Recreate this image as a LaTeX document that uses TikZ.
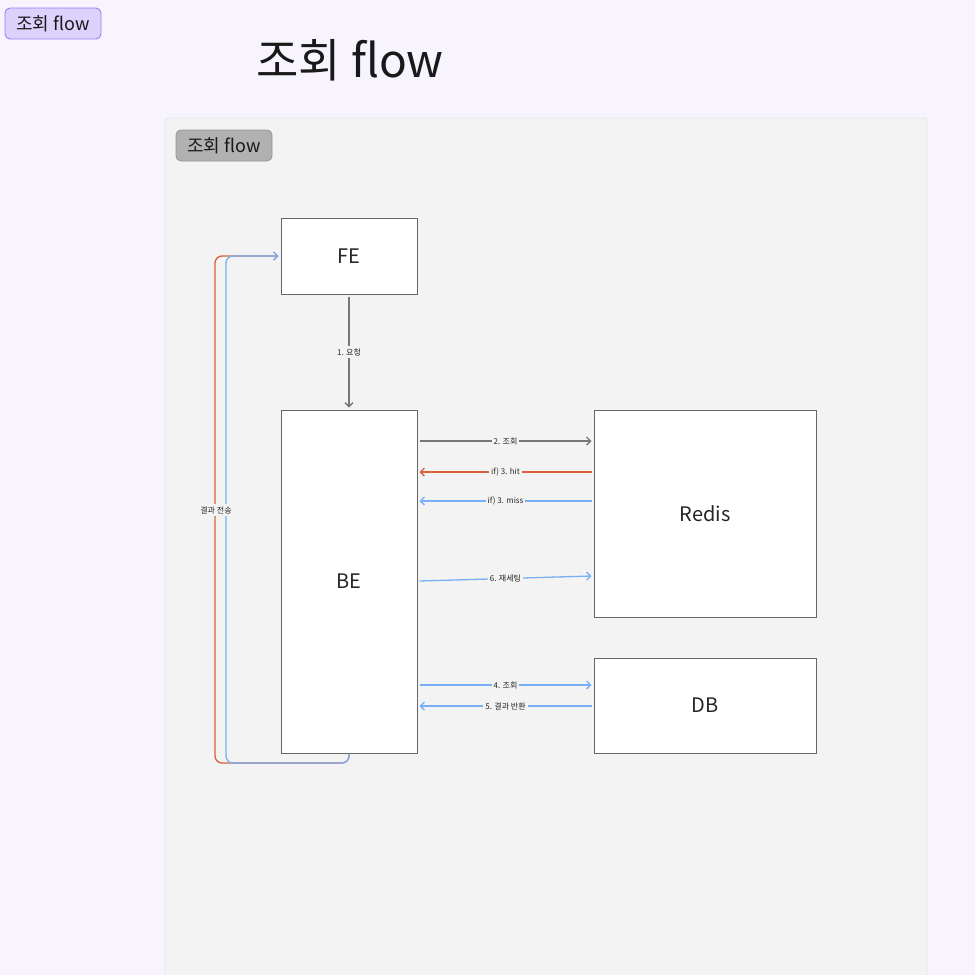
\documentclass[tikz,border=0pt]{standalone}
\usepackage{fontspec}
\setmainfont{Noto Sans CJK KR}
\usetikzlibrary{arrows.meta}

\definecolor{pagebg}{HTML}{F7F4FE}
\definecolor{framebg}{HTML}{F3F3F3}
\definecolor{frameline}{HTML}{D2D2D2}
\definecolor{badgebg}{HTML}{DCD2FC}
\definecolor{badgeline}{HTML}{9B7BEF}
\definecolor{tagbg}{HTML}{B1B1B1}
\definecolor{tagline}{HTML}{979797}
\definecolor{boxline}{HTML}{666666}
\definecolor{flowgray}{HTML}{777777}
\definecolor{flowred}{HTML}{D8613C}
\definecolor{flowblue}{HTML}{78B0F7}

\begin{document}
\begin{tikzpicture}[x=1pt,y=-1pt]
	\tikzset{>={Straight Barb[length=4pt,width=8pt]}}
	\tikzset{box/.style={draw=boxline,fill=white,line width=1pt,inner sep=0pt,font=\fontsize{20}{24}\selectfont,text=black!85}}
	\tikzset{tag/.style={rounded corners=5pt,line width=0.9pt,inner sep=0pt,font=\fontsize{18}{22}\selectfont,text=black!90}}
	\tikzset{lbl/.style={fill=framebg,inner sep=2pt,font=\fontsize{8}{9}\selectfont,text=black!85}}
	\tikzset{flow/.style={->,line width=1.3pt}}
	
	\useasboundingbox (0,0) rectangle (975,975);
	\fill[pagebg] (0,0) rectangle (975,975);
	
	% badge and title
	\node[tag,draw=badgeline,fill=badgebg,minimum width=96pt,minimum height=31pt] (badge) at (53,23.5) {조회 flow};
	\node[font=\fontsize{46}{50}\selectfont,text=black!90] (title) at (350,60) {조회 flow};
	
	% frame
	\draw[frameline,fill=framebg,rounded corners=3pt] (165,985) -- (165,118) -- (927,118) -- (927,985);
	\node[tag,draw=tagline,fill=tagbg,minimum width=96pt,minimum height=31pt] (frametag) at (224,145.5) {조회 flow};
	
	% boxes
	\node[box,minimum width=136pt,minimum height=76pt] (FE) at (349,256) {FE};
	\node[box,minimum width=136pt,minimum height=343pt] (BE) at (349,581.5) {BE};
	\node[box,minimum width=222pt,minimum height=207pt] (Redis) at (705,513.5) {Redis};
	\node[box,minimum width=222pt,minimum height=95pt] (DB) at (705,705.5) {DB};
	
	% request
	\draw[flow,flowgray] ([yshift=-2pt]FE.south) -- node[lbl]{1. 요청} ([yshift=2pt]BE.north);
	
	% BE <-> Redis
	\draw[flow,flowgray] ([xshift=2pt]BE.east |- 0,441) -- node[lbl]{2. 조회} ([xshift=-2pt]Redis.west |- 0,441);
	\draw[flow,flowred] ([xshift=-2pt]Redis.west |- 0,472) -- node[lbl]{if) 3. hit} ([xshift=2pt]BE.east |- 0,472);
	\draw[flow,flowblue] ([xshift=-2pt]Redis.west |- 0,501) -- node[lbl]{if) 3. miss} ([xshift=2pt]BE.east |- 0,501);
	\draw[flow,flowblue] ([xshift=2pt]BE.east |- 0,581) -- node[lbl]{6. 재세팅} ([xshift=-2pt]Redis.west |- 0,576);
	
	% BE <-> DB
	\draw[flow,flowblue] ([xshift=2pt]BE.east |- 0,685) -- node[lbl]{4. 조회} ([xshift=-2pt]DB.west |- 0,685);
	\draw[flow,flowblue] ([xshift=-2pt]DB.west |- 0,706) -- node[lbl]{5. 결과 반환} ([xshift=2pt]BE.east |- 0,706);
	
	% result back to FE
	\coordinate (retred) at (215,763);
	\coordinate (retblue) at (226,763);
	\draw[flow,flowred,rounded corners=7pt] (BE.south) -- (BE.south |- retred) -- (retred) -- (retred |- FE.west) -- ([xshift=-2pt]FE.west);
	\draw[flow,flowblue,rounded corners=7pt] (BE.south) -- (BE.south |- retblue) -- (retblue) -- (retblue |- FE.west) -- ([xshift=-2pt]FE.west);
	\node[lbl] (retlbl) at (216,510) {결과 전송};
	
\end{tikzpicture}
\end{document}
